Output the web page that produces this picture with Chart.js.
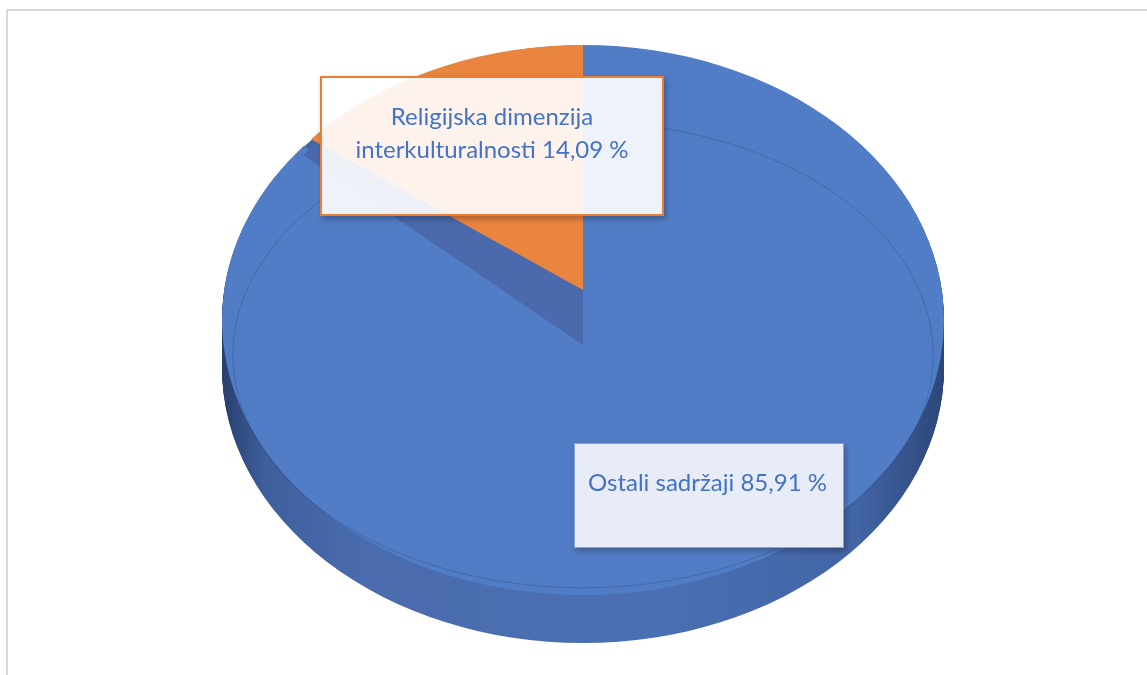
<!DOCTYPE html>
<html>
<head>
<meta charset="utf-8">
<script src="https://cdn.jsdelivr.net/npm/chart.js@4.4.0/dist/chart.umd.min.js"></script>
<style>
  html, body { margin: 0; padding: 0; background: #fff; }
  body { width: 1147px; height: 675px; position: relative; overflow: hidden; }
  #frame { position: absolute; left: 6px; top: 9px; width: 1200px; height: 700px; border: 2px solid #d9d9d9; box-sizing: border-box; }
  #wrap { position: absolute; left: 0; top: 0; width: 1147px; height: 675px; }
  .lbl { position: absolute; box-sizing: border-box; color: #4472c4; font-family: Lato, "Open Sans", sans-serif; font-size: 24px; line-height: 33px; box-shadow: 2px 3px 6px rgba(0,0,0,0.28); }
  #lblOrange { left: 320px; top: 76px; width: 344px; height: 140px; border: 2px solid #ed7d31; background: rgba(255,255,255,0.9); text-align: center; padding-top: 21px; }
  #lblBlue { left: 574px; top: 443px; width: 270px; height: 105px; border: 1px solid #8aa6d8; background: rgba(236,240,248,0.97); padding: 21px 0 0 13px; white-space: nowrap; }
</style>
</head>
<body>
<div id="frame"></div>
<div id="wrap"><canvas id="c" width="1147" height="675"></canvas></div>
<div class="lbl" id="lblOrange"></div>
<div class="lbl" id="lblBlue"></div>
<script>
// podaci
const kategorije = ['Ostali sadržaji', 'Religijska dimenzija interkulturalnosti'];
const postotci   = [85.91, 14.09];
const boje       = ['#517dc6', '#ea8540'];

// geometrija "3D" elipse (ekran)
const CX = 583, CY = 320, RX = 361, RY = 275, DEPTH = 48;
const LIFT = 30;   // narancasti isjecak malo podignut
const DROP = 25;   // tamni klin ispod njega

function fmt(v) { return v.toFixed(2).replace('.', ',') + ' %'; }

document.getElementById('lblOrange').innerHTML =
  'Religijska dimenzija<br>interkulturalnosti ' + fmt(postotci[1]);
document.getElementById('lblBlue').textContent = kategorije[0] + ' ' + fmt(postotci[0]);

function tilt(ctx, arc, cy, ry) {
  ctx.translate(CX, cy);
  ctx.scale(RX / arc.outerRadius, ry / arc.outerRadius);
  ctx.translate(-arc.x, -arc.y);
}

function wedge(ctx, a) {
  ctx.beginPath();
  ctx.moveTo(a.x, a.y);
  ctx.arc(a.x, a.y, a.outerRadius, a.startAngle, a.endAngle);
  ctx.closePath();
}

const pie3d = {
  id: 'pie3d',
  beforeDatasetsDraw(chart) {
    const ctx = chart.ctx;
    const arcs = chart.getDatasetMeta(0).data;
    const a0 = arcs[0];

    // bocni zid
    const g = ctx.createLinearGradient(a0.x - a0.outerRadius, 0, a0.x + a0.outerRadius, 0);
    g.addColorStop(0, '#283f6c');
    g.addColorStop(0.06, '#3f5f9c');
    g.addColorStop(0.2, '#4a6cae');
    g.addColorStop(0.6, '#4b6fb4');
    g.addColorStop(0.88, '#4265a6');
    g.addColorStop(1, '#2c4677');
    for (let dy = DEPTH; dy >= 1; dy--) {
      ctx.save();
      tilt(ctx, a0, CY + dy, RY);
      ctx.fillStyle = g;
      arcs.forEach(a => { wedge(ctx, a); ctx.fill(); });
      ctx.restore();
    }

    // gornja ploha - plavi
    ctx.save();
    tilt(ctx, a0, CY, RY);
    a0.draw(ctx);
    ctx.restore();

    // sve ostalo ostaje unutar gornje elipse
    ctx.save();
    ctx.save();
    tilt(ctx, a0, CY, RY);
    ctx.beginPath();
    ctx.arc(a0.x, a0.y, a0.outerRadius, 0, Math.PI * 2);
    ctx.restore();
    ctx.clip();

    // tamni klin ispod narancastog
    ctx.save();
    tilt(ctx, a0, CY + DROP, RY + DROP);
    ctx.fillStyle = '#4a6aad';
    wedge(ctx, arcs[1]);
    ctx.fill();
    ctx.restore();

    // narancasti
    ctx.save();
    tilt(ctx, a0, CY - LIFT, RY - LIFT);
    arcs[1].draw(ctx);
    ctx.restore();
    ctx.restore();

    // rub gornje plohe (bevel)
    ctx.save();
    tilt(ctx, a0, CY + 35, RY - 35);
    ctx.beginPath();
    ctx.arc(a0.x, a0.y, a0.outerRadius * 0.97, 0, Math.PI * 2);
    ctx.restore();
    ctx.strokeStyle = 'rgba(40,70,130,0.35)';
    ctx.lineWidth = 1;
    ctx.stroke();
    return false;
  }
};

new Chart(document.getElementById('c'), {
  type: 'pie',
  data: {
    labels: kategorije,
    datasets: [{
      data: postotci,
      backgroundColor: boje,
      borderWidth: 0
    }]
  },
  options: {
    responsive: false,
    animation: false,
    rotation: 0,
    plugins: { legend: { display: false }, tooltip: { enabled: false } }
  },
  plugins: [pie3d]
});
</script>
</body>
</html>
